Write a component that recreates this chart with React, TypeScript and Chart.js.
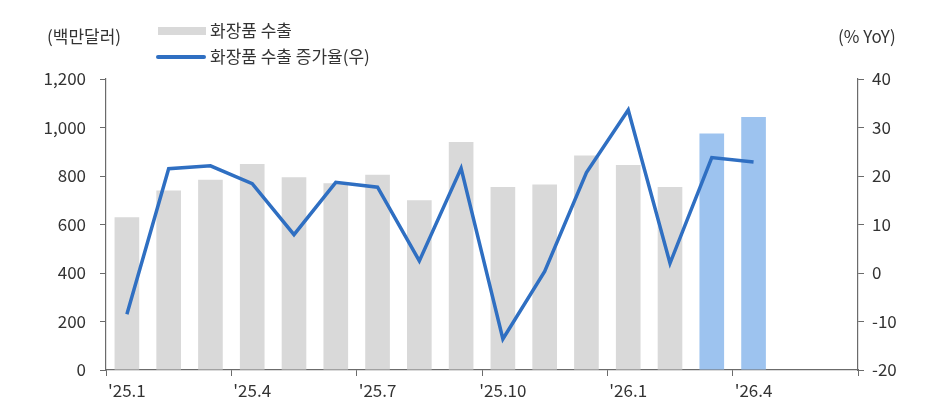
import { useRef, useEffect } from "react";
import Chart from "chart.js/auto";

const months = [
  "'25.1", "'25.2", "'25.3", "'25.4", "'25.5", "'25.6", "'25.7", "'25.8", "'25.9",
  "'25.10", "'25.11", "'25.12", "'26.1", "'26.2", "'26.3", "'26.4", "'26.5", "'26.6",
];
// 화장품 수출 (백만달러)
const exports = [630, 740, 785, 850, 795, 770, 805, 700, 940, 755, 765, 885, 845, 755, 975, 1043, null, null];
// 화장품 수출 증가율 (% YoY)
const growth = [-8.5, 21.5, 22.1, 18.4, 7.9, 18.7, 17.7, 2.5, 21.6, -13.6, 0.3, 20.7, 33.6, 2.0, 23.8, 22.9, null, null];
const highlighted = ["'26.3", "'26.4"];

const FONT = "'Noto Sans CJK KR', 'Noto Sans', sans-serif";
const TEXT = "#333333";
const AXIS = "#6b6b6b";
const GRAY = "#d9d9d9";
const LIGHT_BLUE = "#9dc3ef";
const LINE = "#2f6fc2";

const App = () => {
  const chartRef = useRef<HTMLCanvasElement>(null);

  useEffect(() => {
    if (!chartRef.current) return;
    const chart = new Chart(chartRef.current, {
      type: "bar",
      data: {
        labels: months,
        datasets: [
          {
            type: "line",
            label: "화장품 수출 증가율(우)",
            data: growth,
            yAxisID: "y1",
            borderColor: LINE,
            borderWidth: 3.5,
            pointRadius: 0,
            tension: 0,
            order: 0,
          },
          {
            type: "bar",
            label: "화장품 수출",
            data: exports,
            yAxisID: "y",
            backgroundColor: months.map((m) => (highlighted.includes(m) ? LIGHT_BLUE : GRAY)),
            barPercentage: 0.59,
            categoryPercentage: 1,
            order: 1,
          },
        ],
      },
      options: {
        responsive: false,
        animation: false,
        layout: { padding: { top: 79, left: 0, right: 0, bottom: 0 } },
        plugins: { legend: { display: false }, tooltip: { enabled: false } },
        scales: {
          x: {
            offset: true,
            grid: {
              offset: true,
              drawOnChartArea: false,
              tickLength: 6,
              color: (ctx: any) =>
                ctx.type !== "tick" || ctx.index % 3 === 0 ? AXIS : "rgba(0,0,0,0)",
            },
            border: { color: AXIS, width: 1.2 },
            ticks: {
              autoSkip: false,
              maxRotation: 0,
              padding: 4,
              color: TEXT,
              font: { family: FONT, size: 17 },
              callback: (_v: any, i: number) => (i % 3 === 0 ? months[i] : ""),
            },
            afterFit: (scale: any) => {
              scale.height = 42;
            },
          },
          y: {
            position: "left",
            min: 0,
            max: 1200,
            grid: { drawOnChartArea: false, tickLength: 6, color: AXIS },
            border: { color: AXIS, width: 1.2 },
            ticks: {
              stepSize: 200,
              padding: 14,
              color: TEXT,
              font: { family: FONT, size: 17 },
              callback: (v: any) => Number(v).toLocaleString("en-US"),
            },
            afterFit: (scale: any) => {
              scale.width = 106;
            },
          },
          y1: {
            position: "right",
            min: -20,
            max: 40,
            grid: { drawOnChartArea: false, tickLength: 6, color: AXIS },
            border: { color: AXIS, width: 1.2 },
            ticks: {
              stepSize: 10,
              padding: 8,
              color: TEXT,
              font: { family: FONT, size: 17 },
            },
            afterFit: (scale: any) => {
              scale.width = 74;
            },
          },
        },
      },
    });
    return () => {
      chart.destroy();
    };
  }, []);

  const text: React.CSSProperties = {
    position: "absolute",
    fontFamily: FONT,
    fontSize: 17,
    color: TEXT,
    lineHeight: "20px",
    whiteSpace: "nowrap",
  };

  return (
    <div style={{ position: "fixed", left: 0, top: 0, width: 932, height: 412, background: "#fff" }}>
      <canvas ref={chartRef} width={932} height={412} />
      <div style={{ ...text, left: 47, top: 26 }}>(백만달러)</div>
      <div style={{ ...text, left: 838, top: 26 }}>(% YoY)</div>
      <div style={{ position: "absolute", left: 158, top: 27, width: 48, height: 8, background: GRAY }} />
      <div style={{ ...text, left: 210, top: 20 }}>화장품 수출</div>
      <div style={{ position: "absolute", left: 156, top: 55, width: 50, height: 4, borderRadius: 2, background: LINE }} />
      <div style={{ ...text, left: 210, top: 46 }}>화장품 수출 증가율(우)</div>
    </div>
  );
};

export default App;
